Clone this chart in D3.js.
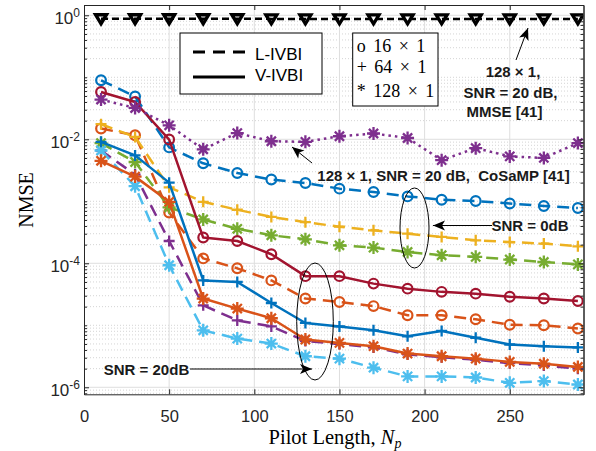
<!DOCTYPE html>
<html><head><meta charset="utf-8">
<script src="https://cdn.jsdelivr.net/npm/d3@7"></script>
<style>body{margin:0;background:#fff}svg{display:block}</style>
</head><body><svg id="c" width="596" height="451"></svg>
<script>
// ---------------- data ----------------
const pilotLengths = [10,30,50,70,90,110,130,150,170,190,210,230,250,270,290];
const xTickValues = [0,50,100,150,200,250];
const yTickExponents = [0,-2,-4,-6];

const livbi16_snr0  = [0.0895,0.049,0.0074,0.0041,0.00286,0.00224,0.00197,0.0016,0.00141,0.0012,0.00106,0.00101,0.00092,0.00084,0.00078];
const livbi16_snr20 = [0.0149,0.0116,6.6e-4,1.2e-4,8.3e-5,5.3e-5,2.7e-5,2.38e-5,2.04e-5,1.45e-5,1.45e-5,1.25e-5,1.02e-5,1.0e-5,8.9e-6];
const livbi64_snr0  = [0.0175,0.0109,0.00168,9.8e-4,7.3e-4,5.6e-4,4.6e-4,3.9e-4,3.4e-4,3.0e-4,2.66e-4,2.35e-4,2.2e-4,2.08e-4,1.88e-4];
const livbi64_snr20 = [0.0066,0.0027,2.29e-4,2.1e-5,1.2e-5,9.6e-6,5.6e-6,5.0e-6,4.4e-6,3.4e-6,3.05e-6,2.8e-6,2.45e-6,2.25e-6,2.0e-6];
const livbi128_snr0 = [0.0087,0.0043,8.0e-4,5.1e-4,3.6e-4,2.83e-4,2.44e-4,1.95e-4,1.79e-4,1.52e-4,1.35e-4,1.27e-4,1.15e-4,1.05e-4,9.6e-5];
const livbi128_snr20= [0.0066,0.00175,9.3e-5,8.3e-6,6.1e-6,5.07e-6,3.17e-6,2.9e-6,2.07e-6,1.5e-6,1.5e-6,1.44e-6,1.18e-6,1.26e-6,1.11e-6];
const vivbi16_snr20 = [0.058,0.04,0.0099,2.6e-4,2.29e-4,1.4e-4,6.2e-5,6.2e-5,4.7e-5,3.9e-5,3.46e-5,3.24e-5,2.88e-5,2.7e-5,2.47e-5];
const vivbi64_snr20 = [0.0091,0.0055,0.002,5.3e-5,5.0e-5,2.29e-5,1.09e-5,9.6e-6,8.3e-6,6.65e-6,8.1e-6,6.3e-6,4.9e-6,4.6e-6,4.4e-6];
const vivbi128_snr20= [0.0045,0.0025,9.8e-4,2.7e-5,1.86e-5,1.3e-5,5.9e-6,5.2e-6,4.6e-6,3.5e-6,3.17e-6,2.9e-6,2.57e-6,2.4e-6,2.13e-6];
const cosamp128_snr20 = [0.0437,0.032,0.0168,0.0069,0.0126,0.0093,0.0091,0.0112,0.0124,0.0105,0.0046,0.0072,0.0053,0.005,0.0087];
const mmse128_snr20 = [0.88,0.88,0.88,0.88,0.88,0.875,0.875,0.875,0.875,0.875,0.875,0.875,0.875,0.875,0.875];

const legendLabels = ["L-IVBI","V-IVBI"];
const markerLegend = ["o 16 \u00d7 1","+ 64 \u00d7 1","* 128 \u00d7 1"];

// ---------------- setup ----------------
const svg = d3.select('#c');
const L = 84, R = 583.5, T = 5, B = 394.3;
const x = d3.scaleLinear().domain([0, 293.3]).range([L, R]);
const y = d3.scaleLog().domain([Math.pow(10,-6.113), Math.pow(10,0.166)]).range([B, T]);
const axisColor = '#262626';

const C = {blue:'#0072BD', orange:'#D95319', yellow:'#EDB120', purple:'#7E2F8E', green:'#77AC30', cyan:'#4DBEEE', red:'#A2142F', black:'#000'};
const DASH = '12,7', DOT = '2.5,4';

const series = [
  {v: livbi16_snr0,  c: C.blue,   d: DASH, m: 'o'},
  {v: livbi16_snr20, c: C.orange, d: DASH, m: 'o'},
  {v: livbi64_snr0,  c: C.yellow, d: DASH, m: '+'},
  {v: livbi64_snr20, c: C.purple, d: DASH, m: '+'},
  {v: livbi128_snr0, c: C.green,  d: DASH, m: '*'},
  {v: livbi128_snr20,c: C.cyan,   d: DASH, m: '*'},
  {v: vivbi16_snr20, c: C.red,    d: null, m: 'o'},
  {v: vivbi64_snr20, c: C.blue,   d: null, m: '+'},
  {v: vivbi128_snr20,c: C.orange, d: null, m: '*'},
  {v: cosamp128_snr20, c: C.purple, d: DOT, m: '*'},
  {v: mmse128_snr20, c: C.black,  d: '7,4', m: 'v'}
];

// ---------------- grid ----------------
const minorVals = [];
for (let d = -7; d <= 0; d++) {
  for (let k = 1; k <= 9; k++) {
    const val = k * Math.pow(10, d);
    if (k === 1 && d % 2 === 0) continue;
    if (val >= y.domain()[0] && val <= y.domain()[1]) minorVals.push(val);
  }
}
const majorYVals = yTickExponents.map(e => Math.pow(10, e));
const grid = svg.append('g');
grid.selectAll('.mg').data(minorVals).join('line')
  .attr('x1', L).attr('x2', R).attr('y1', d => y(d)).attr('y2', d => y(d))
  .attr('stroke', '#c9c9c9').attr('stroke-width', 0.8).attr('stroke-dasharray', '1,2');
grid.selectAll('.gy').data(majorYVals).join('line')
  .attr('x1', L).attr('x2', R).attr('y1', d => y(d)).attr('y2', d => y(d))
  .attr('stroke', '#dedede').attr('stroke-width', 1);
grid.selectAll('.gx').data(xTickValues.filter(v => v > 0)).join('line')
  .attr('x1', d => x(d)).attr('x2', d => x(d)).attr('y1', T).attr('y2', B)
  .attr('stroke', '#dedede').attr('stroke-width', 1);

// ---------------- series ----------------
svg.append('clipPath').attr('id','clip').append('rect').attr('x',L).attr('y',T).attr('width',R-L).attr('height',B-T);
const plot = svg.append('g').attr('clip-path','url(#clip)');
const line = d3.line().x(d => x(d[0])).y(d => y(d[1]));
const markerPath = {
  'o': d3.symbol(d3.symbolCircle, 74)(),
  '+': 'M-5.5,0H5.5M0,-5.5V5.5',
  '*': 'M-6.5,0H6.5M0,-6.5V6.5M-4.6,-4.6L4.6,4.6M-4.6,4.6L4.6,-4.6',
  'v': 'M-5.5,-4L5.5,-4L0,5Z'
};
series.forEach(s => {
  const pts = pilotLengths.map((p, i) => [p, s.v[i]]);
  const g = plot.append('g');
  g.append('path').attr('d', line(pts)).attr('fill','none').attr('stroke', s.c)
    .attr('stroke-width', 2.5).attr('stroke-dasharray', s.d).attr('stroke-linejoin','round');
  g.selectAll('path.m').data(pts).join('path').attr('class','m')
    .attr('transform', d => `translate(${x(d[0])},${y(d[1])})`)
    .attr('d', markerPath[s.m]).attr('fill','none').attr('stroke', s.c)
    .attr('stroke-linejoin','miter')
    .attr('stroke-width', s.m === 'o' ? 2.2 : (s.m === 'v' ? 3.3 : 2.3));
});

// ---------------- axes ----------------
const axes = svg.append('g').attr('color', axisColor);
const xb = axes.append('g').attr('transform',`translate(0,${B})`)
  .call(d3.axisBottom(x).tickValues(xTickValues).tickSizeInner(-5).tickSizeOuter(0).tickPadding(15.5));
xb.selectAll('text').attr('font-family','Liberation Sans, Arial, sans-serif').attr('font-size',16.5).attr('fill',axisColor);
axes.append('g').attr('transform',`translate(0,${T})`)
  .call(d3.axisTop(x).tickValues(xTickValues).tickSizeInner(-5).tickSizeOuter(0).tickFormat(''));
axes.append('g').attr('transform',`translate(${L},0)`)
  .call(d3.axisLeft(y).tickValues(majorYVals).tickSizeInner(-5).tickSizeOuter(0).tickFormat(''));
axes.append('g').attr('transform',`translate(${L},0)`)
  .call(d3.axisLeft(y).tickValues(minorVals).tickSizeInner(-3).tickSizeOuter(0).tickFormat(''));
axes.append('g').attr('transform',`translate(${R},0)`)
  .call(d3.axisRight(y).tickValues(majorYVals).tickSizeInner(-5).tickSizeOuter(0).tickFormat(''));
axes.append('g').attr('transform',`translate(${R},0)`)
  .call(d3.axisRight(y).tickValues(minorVals).tickSizeInner(-3).tickSizeOuter(0).tickFormat(''));
axes.selectAll('.domain').attr('stroke', axisColor);
axes.selectAll('line').attr('stroke', axisColor);

// y tick labels with superscripts
yTickExponents.forEach(e => {
  const t = svg.append('text').attr('x', 80).attr('y', y(Math.pow(10,e)) + 8.5)
    .attr('text-anchor','end').attr('font-family','Liberation Sans, Arial, sans-serif')
    .attr('font-size',17).attr('fill',axisColor);
  t.append('tspan').text('10');
  t.append('tspan').attr('dy',-7).attr('font-size',12).text(String(e));
});

// axis labels
svg.append('text').attr('x', 335).attr('y', 443.5)
  .attr('text-anchor','middle').attr('font-family','Liberation Serif, Times New Roman, serif')
  .attr('font-size',20.5).attr('fill','#000')
  .call(t => {
    t.append('tspan').text('Pilot Length, ');
    t.append('tspan').attr('font-style','italic').text('N');
    t.append('tspan').attr('font-style','italic').attr('font-size',14).attr('dy',4).text('p');
  });
svg.append('text').attr('transform','translate(33,200) rotate(-90)')
  .attr('text-anchor','middle').attr('font-family','Liberation Serif, Times New Roman, serif')
  .attr('font-size',20).attr('fill','#000').text('NMSE');

// ---------------- legends ----------------
const lg = svg.append('g');
lg.append('rect').attr('x',180).attr('y',33).attr('width',142).attr('height',61)
  .attr('fill','#fff').attr('stroke','#000').attr('stroke-width',1);
[[52, '12,8', 59.5], [77, null, 80.5]].forEach((r, i) => {
  lg.append('line').attr('x1',193).attr('x2',245).attr('y1',r[0]).attr('y2',r[0])
    .attr('stroke','#000').attr('stroke-width',3).attr('stroke-dasharray', r[1]);
  lg.append('text').attr('x',255).attr('y',r[2]).attr('font-family','Liberation Sans, Arial, sans-serif')
    .attr('font-size',17).attr('fill','#000').text(legendLabels[i]);
});
lg.append('rect').attr('x',352.7).attr('y',33).attr('width',85.3).attr('height',73)
  .attr('fill','#fff').attr('stroke','#000').attr('stroke-width',1);
[51.7, 73.3, 96.5].forEach((yy, i) => {
  lg.append('text').attr('x',356.7).attr('y',yy).attr('font-family','Liberation Serif, Times New Roman, serif')
    .attr('font-size',18).attr('word-spacing',3).attr('fill','#000').text(markerLegend[i]);
});

// ---------------- annotations ----------------
const ann = svg.append('g');
function arrow(x1,y1,x2,y2){
  ann.append('line').attr('x1',x1).attr('y1',y1).attr('x2',x2).attr('y2',y2).attr('stroke','#000').attr('stroke-width',1);
  const a = Math.atan2(y2-y1, x2-x1), len = 12, w = 5, notch = 3;
  const bx = x2 - len*Math.cos(a), by = y2 - len*Math.sin(a);
  const nx = x2 - (len-notch)*Math.cos(a), ny = y2 - (len-notch)*Math.sin(a);
  const px = -Math.sin(a)*w, py = Math.cos(a)*w;
  ann.append('path').attr('d',`M${x2},${y2}L${bx+px},${by+py}L${nx},${ny}L${bx-px},${by-py}Z`).attr('fill','#000');
}
function label(tx, ty, str, anchor){
  ann.append('text').attr('x',tx).attr('y',ty).attr('text-anchor',anchor||'middle')
    .attr('font-family','Liberation Sans, Arial, sans-serif').attr('font-weight','bold')
    .attr('font-size',15).attr('fill','#1a1a1a').text(str);
}
arrow(516, 60, 528, 28);
label(513, 77, '128 \u00d7 1,');
label(510.5, 97.5, 'SNR = 20 dB,');
label(504.5, 117, 'MMSE [41]');
arrow(312, 163, 292, 147);
label(443.5, 180.5, '128 \u00d7 1, SNR = 20 dB,\u00a0 CoSaMP [41]');
ann.append('ellipse').attr('cx',414.5).attr('cy',228).attr('rx',14.5).attr('ry',40)
  .attr('fill','none').attr('stroke','#000').attr('stroke-width',1);
arrow(492, 225.5, 433, 225.5);
label(530, 230.7, 'SNR = 0dB');
ann.append('ellipse').attr('cx',315).attr('cy',321.5).attr('rx',18.3).attr('ry',58.5)
  .attr('fill','none').attr('stroke','#000').attr('stroke-width',1);
arrow(190, 369, 312, 369);
label(146.5, 375, 'SNR = 20dB');
</script></body></html>
